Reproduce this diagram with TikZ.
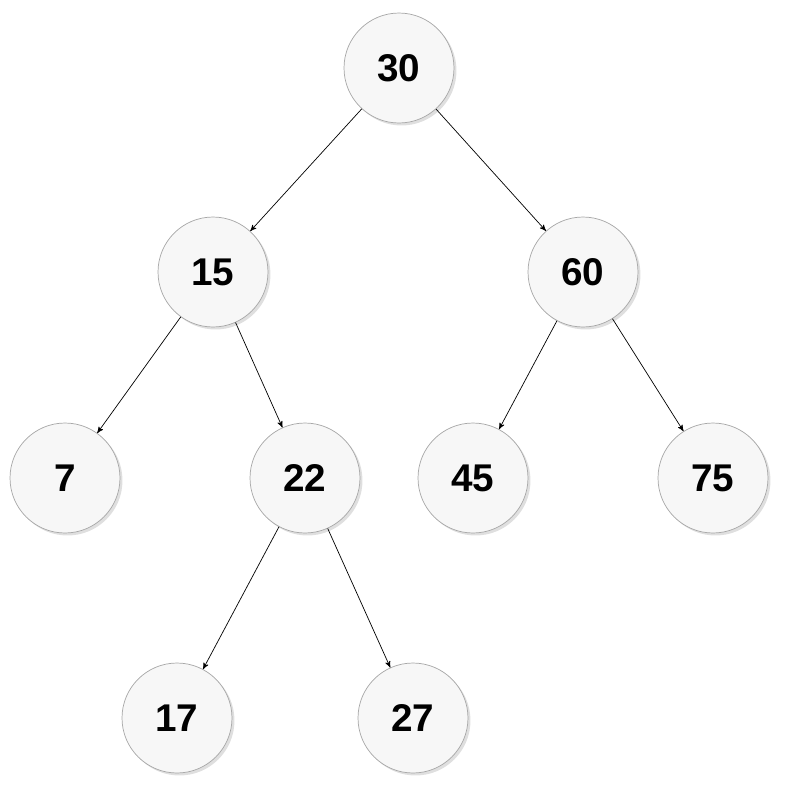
\documentclass[tikz,border=0pt]{standalone}
\usepackage{fontspec}
\setmainfont{Liberation Sans}
\usetikzlibrary{arrows}
\usetikzlibrary{shadows}
\begin{document}
\begin{tikzpicture}[x=0.02cm, y=-0.02cm,
        key/.style={circle, draw=gray!70, fill=gray!6, minimum size=2.2cm, inner sep=0pt,
            font=\fontsize{22}{22}\selectfont\bfseries, drop shadow={opacity=.25, shadow xshift=.05cm, shadow yshift=-.05cm}},
        link/.style={->, >=stealth', thin}]
        \useasboundingbox (0,0) rectangle (787,796);

        \node[key] (n30) at (399,68) {30};
        \node[key] (n15) at (213,272) {15};
        \node[key] (n60) at (583,272) {60};
        \node[key] (n7) at (65,478) {7};
        \node[key] (n22) at (305,478) {22};
        \node[key] (n45) at (473,478) {45};
        \node[key] (n75) at (713,478) {75};
        \node[key] (n17) at (177,718) {17};
        \node[key] (n27) at (413,718) {27};

        \foreach \parent/\child in {n30/n15, n30/n60, n15/n7, n15/n22, n60/n45, n60/n75, n22/n17, n22/n27}
            \draw[link] (\parent) -- (\child);
    \end{tikzpicture}
\end{document}
